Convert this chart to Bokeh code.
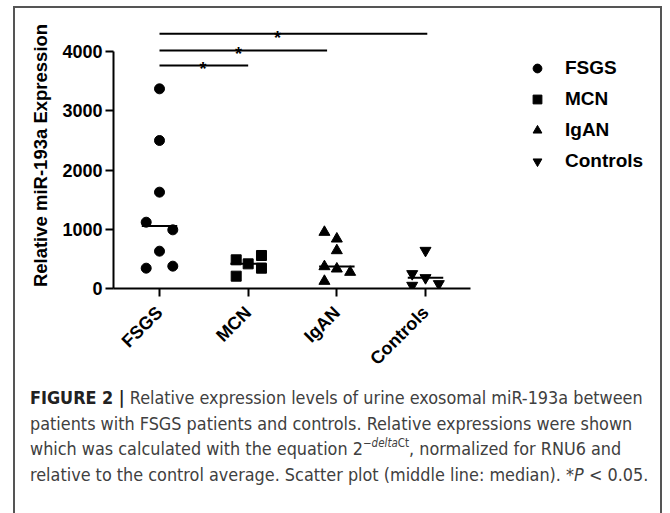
from math import pi
from bokeh.plotting import figure
from bokeh.layouts import column
from bokeh.models import FixedTicker, Legend, LegendItem, Range1d, Div
from bokeh.core.properties import value
from bokeh.embed import file_html
from bokeh.resources import INLINE

# ---------------- data ----------------
groups = ["FSGS", "MCN", "IgAN", "Controls"]
fsgs = [3370, 2498, 1626, 1119, 990, 630, 343, 377]
fsgs_jitter = [0, 0, 0, -0.15, 0.15, 0, -0.15, 0.15]
mcn = [484, 416, 557, 208, 343]
mcn_jitter = [-0.135, 0, 0.15, -0.135, 0.15]
igan = [951, 838, 641, 371, 332, 276, 124]
igan_jitter = [-0.14, 0, 0, -0.14, 0, 0.15, -0.14]
controls = [641, 248, 180, 51, 79]
controls_jitter = [0, -0.15, 0, -0.15, 0.15]
y_ticks = [0, 1000, 2000, 3000, 4000]
sig_from = [1, 1, 1]
sig_to = [2, 2.89, 4.02]
sig_y = [3764, 4017, 4298]
sig_star_x = [1.49, 1.89, 2.33]
sig_text = ["*", "*", "*"]

# ---------------- geometry ----------------
W = 645
H1, H2 = 370, 135
FL, FT, FB = 98, 14, 280          # frame edges in canvas px (frame right = canvas right)
PX_PER_X = 88.67
X0 = 0.4812
X1 = X0 + (W - FL) / PX_PER_X
X_AXIS_END = 4.506
Y0 = 0
Y1 = (FB - FT) / 0.05925

BOLD = "Liberation Sans"
p = figure(width=W, height=H1, output_backend="svg", toolbar_location=None,
           x_range=Range1d(X0, X1), y_range=Range1d(Y0, Y1),
           min_border_left=FL, min_border_right=0,
           min_border_top=FT, min_border_bottom=H1 - FB)
p.outline_line_color = None
p.grid.visible = False

def median(v):
    s = sorted(v)
    n = len(s)
    return s[n // 2] if n % 2 else (s[n // 2 - 1] + s[n // 2]) / 2

series = [(fsgs, fsgs_jitter, "circle", 10), (mcn, mcn_jitter, "square", 10),
          (igan, igan_jitter, "triangle", 11), (controls, controls_jitter, "inverted_triangle", 11)]
items = []
for i, (vals, jit, marker, sz) in enumerate(series):
    xs = [i + 1 + j for j in jit]
    r = p.scatter(xs, vals, marker=marker, size=sz, color="black")
    items.append(LegendItem(label=groups[i], renderers=[r]))
    m = median(vals)
    p.segment(x0=[i + 1 - 0.2], x1=[i + 1 + 0.2], y0=[m], y1=[m], line_color="black", line_width=2)

# significance bars
p.segment(x0=sig_from, x1=sig_to, y0=sig_y, y1=sig_y, line_color="black", line_width=2)
p.text(x=sig_star_x, y=sig_y, text=sig_text, text_align="center", text_baseline="alphabetic",
       y_offset=4, text_font=value(BOLD), text_font_style="bold", text_font_size="18px",
       text_color="black")

# axes
xa = p.xaxis[0]
xa.ticker = FixedTicker(ticks=[1, 2, 3, 4])
xa.bounds = (X0, X_AXIS_END)
xa.major_label_overrides = {i + 1: g for i, g in enumerate(groups)}
xa.major_label_orientation = pi / 4
ya = p.yaxis[0]
ya.ticker = FixedTicker(ticks=y_ticks)
ya.bounds = (0, 4000)
ya.axis_label = "Relative miR-193a Expression"
ya.axis_label_text_font = BOLD
ya.axis_label_text_font_style = "bold"
ya.axis_label_text_font_size = "18.5px"
ya.axis_label_text_color = "black"
ya.axis_label_standoff = 8
for ax in (xa, ya):
    ax.axis_line_width = 2
    ax.axis_line_color = "black"
    ax.major_tick_line_width = 2
    ax.major_tick_line_color = "black"
    ax.major_tick_out = 8
    ax.major_tick_in = 0
    ax.minor_tick_line_color = None
    ax.major_label_text_font = BOLD
    ax.major_label_text_font_style = "bold"
    ax.major_label_text_font_size = "18px"
    ax.major_label_text_color = "black"
ya.major_label_standoff = 3
xa.major_label_standoff = 13

legend = Legend(items=items, location=(413, 116), orientation="vertical",
                glyph_width=22, glyph_height=22, label_height=22, label_standoff=17,
                spacing=9, padding=0, margin=0, border_line_color=None,
                background_fill_alpha=0,
                label_text_font=BOLD, label_text_font_style="bold",
                label_text_font_size="19px", label_text_color="black")
p.add_layout(legend, "center")

# ---------------- caption ----------------
caption_lines = [
    "<b style='color:#222'>FIGURE 2 |</b> Relative expression levels of urine exosomal miR-193a between",
    "patients with FSGS patients and controls. Relative expressions were shown",
    "which was calculated with the equation 2<sup style='font-size:11.5px;line-height:0;"
    "vertical-align:8px'>\u2212<i>delta</i>Ct</sup>, normalized for RNU6 and",
    "relative to the control average. Scatter plot (middle line: median). *<i>P</i> &lt; 0.05.",
]
cap_html = ("<div style=\"font-family:'DejaVu Sans Condensed','DejaVu Sans',sans-serif;"
            "font-stretch:condensed;font-size:17.85px;line-height:25.5px;color:#404040;"
            "white-space:nowrap;padding:7px 0 0 15px;\">"
            + "<br>".join(caption_lines) + "</div>")
cap = Div(text=cap_html, width=W, height=H2, margin=0)

layout = column(p, cap, spacing=0, margin=(6, 0, 0, 13), width=W + 4, height=H1 + H2 + 2,
                styles={"border-top": "2px solid #555", "border-left": "2px solid #555",
                        "border-right": "2px solid #555"})
open("out.html", "w").write(file_html(layout, INLINE))
